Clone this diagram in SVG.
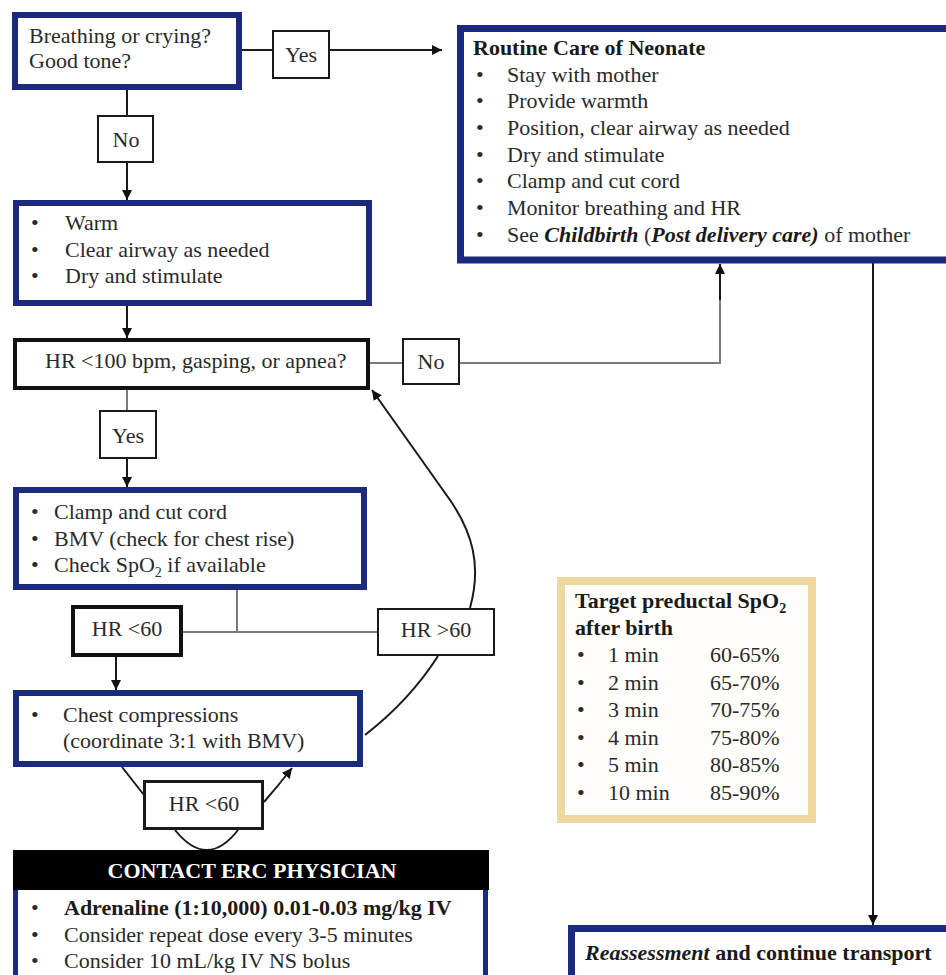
<svg xmlns="http://www.w3.org/2000/svg" width="946" height="975" viewBox="0 0 946 975">
<defs>
<marker id="arr" viewBox="0 0 10 10" refX="10" refY="5" markerWidth="10" markerHeight="10" markerUnits="userSpaceOnUse" orient="auto">
<path d="M0,0 L10,5 L0,10 z" fill="#111"/>
</marker>
<style>
text{font-family:"Liberation Serif","Times New Roman",serif;font-size:22px;fill:#2a2a2a}
.b{font-weight:bold;fill:#1a1a1a}
.i{font-style:italic}
.c{text-anchor:middle}
.navy{fill:#fff;stroke:#1c2a7e;stroke-width:6}
.lbl{fill:#fff;stroke:#1a1a1a;stroke-width:2}
.lblk{fill:#fff;stroke:#111;stroke-width:4}
.ln{fill:none;stroke:#1a1a1a;stroke-width:2}
.gl{fill:none;stroke:#7a7a7a;stroke-width:2}
.sub{font-size:14px}
</style>
</defs>
<rect width="946" height="975" fill="#fff"/>

<g id="connectors">
<line class="ln" x1="242" y1="50" x2="272" y2="50"/>
<line class="ln" x1="330" y1="50" x2="442" y2="50" marker-end="url(#arr)"/>
<line class="ln" x1="127" y1="90" x2="127" y2="115"/>
<line class="ln" x1="127" y1="163" x2="127" y2="200" marker-end="url(#arr)"/>
<line class="ln" x1="127" y1="306" x2="127" y2="338" marker-end="url(#arr)"/>
<line class="gl" x1="127" y1="390" x2="127" y2="410"/>
<line class="ln" x1="127" y1="459" x2="127" y2="487" marker-end="url(#arr)"/>
<line class="gl" x1="370" y1="363" x2="402" y2="363"/>
<path class="gl" d="M460,363 H720 V290"/>
<line class="ln" x1="720" y1="300" x2="720" y2="264" marker-end="url(#arr)"/>
<line class="ln" x1="873" y1="263" x2="873" y2="925" marker-end="url(#arr)"/>
<line class="gl" x1="237" y1="590" x2="237" y2="632"/>
<line class="gl" x1="183" y1="632" x2="377" y2="632"/>
<line class="ln" x1="116" y1="657" x2="116" y2="690" marker-end="url(#arr)"/>
<path class="ln" d="M470,608 C482,565 472,532 450,500 L372,390" marker-end="url(#arr)"/>
<path class="ln" d="M438,656 Q410,700 365,735"/>
<path class="ln" d="M122,767 L144,795"/>
<path class="ln" d="M175,830 Q207,870 238,830"/>
<path class="ln" d="M264,802 Q278,786 292,768" marker-end="url(#arr)"/>
</g>

<g id="start">
<rect class="navy" x="15" y="15" width="224" height="72"/>
<text x="29" y="43">Breathing or crying?</text>
<text x="29" y="68">Good tone?</text>
</g>

<g id="yes1">
<rect class="lbl" x="273" y="31" width="56" height="47"/>
<text class="c" x="301" y="62">Yes</text>
</g>

<g id="no1">
<rect class="lbl" x="98" y="116" width="55" height="46"/>
<text class="c" x="126" y="147">No</text>
</g>

<g id="routine">
<rect class="navy" x="460.5" y="28.5" width="500" height="231.5" style="stroke-width:7"/>
<text class="b" x="473" y="55">Routine Care of Neonate</text>
<text x="476" y="82">•</text><text x="507" y="82">Stay with mother</text>
<text x="476" y="108">•</text><text x="507" y="108">Provide warmth</text>
<text x="476" y="135">•</text><text x="507" y="135">Position, clear airway as needed</text>
<text x="476" y="162">•</text><text x="507" y="162">Dry and stimulate</text>
<text x="476" y="188">•</text><text x="507" y="188">Clamp and cut cord</text>
<text x="476" y="215">•</text><text x="507" y="215">Monitor breathing and HR</text>
<text x="476" y="242">•</text><text x="507" y="242">See <tspan class="b i">Childbirth</tspan> (<tspan class="b i">Post delivery care)</tspan> of mother</text>
</g>

<g id="warm">
<rect class="navy" x="16" y="203" width="353" height="100"/>
<text x="31" y="230">•</text><text x="65" y="230">Warm</text>
<text x="31" y="257">•</text><text x="65" y="257">Clear airway as needed</text>
<text x="31" y="283">•</text><text x="65" y="283">Dry and stimulate</text>
</g>

<g id="hr100">
<rect class="lblk" x="15" y="340" width="353" height="48"/>
<text x="45" y="368">HR &lt;100 bpm, gasping, or apnea?</text>
</g>

<g id="no2">
<rect class="lbl" x="403" y="339" width="56" height="45"/>
<text class="c" x="431" y="369">No</text>
</g>

<g id="yes2">
<rect class="lbl" x="100" y="411" width="56" height="47"/>
<text class="c" x="128" y="443">Yes</text>
</g>

<g id="clamp">
<rect class="navy" x="16" y="490" width="348" height="97"/>
<text x="31" y="519">•</text><text x="54" y="519">Clamp and cut cord</text>
<text x="31" y="546">•</text><text x="54" y="546">BMV (check for chest rise)</text>
<text x="31" y="572">•</text><text x="54" y="572">Check SpO<tspan class="sub" dy="5">2</tspan><tspan dy="-5"> if available</tspan></text>
</g>

<g id="hr60a">
<rect class="lblk" x="73" y="607" width="108" height="48"/>
<text class="c" x="127" y="636">HR &lt;60</text>
</g>

<g id="hr60b">
<rect class="lbl" x="378" y="609" width="116" height="46"/>
<text class="c" x="436" y="637">HR &gt;60</text>
</g>

<g id="compress">
<rect class="navy" x="16" y="693" width="344" height="71"/>
<text x="31" y="722">•</text><text x="63" y="722">Chest compressions</text>
<text x="63" y="748">(coordinate 3:1 with BMV)</text>
</g>

<g id="hr60c">
<rect class="lbl" x="144.5" y="781.5" width="118" height="47" style="stroke-width:3"/>
<text class="c" x="204" y="811">HR &lt;60</text>
</g>

<g id="erc">
<rect class="navy" x="15.5" y="887" width="470" height="120" style="stroke-width:5"/>
<rect x="13" y="850" width="476" height="40" fill="#000"/>
<text class="b c" x="252" y="878" style="fill:#fff">CONTACT ERC PHYSICIAN</text>
<text x="31" y="915">•</text><text class="b" x="64" y="915">Adrenaline (1:10,000) 0.01-0.03 mg/kg IV</text>
<text x="31" y="942">•</text><text x="64" y="942">Consider repeat dose every 3-5 minutes</text>
<text x="31" y="968">•</text><text x="64" y="968">Consider 10 mL/kg IV NS bolus</text>
</g>

<g id="spo2">
<rect x="561" y="581" width="251" height="238" fill="#fffefa" stroke="#efd89e" stroke-width="8"/>
<text class="b" x="575" y="608">Target preductal SpO<tspan class="sub" dy="5">2</tspan></text>
<text class="b" x="575" y="635">after birth</text>
<text x="577" y="662">•</text><text x="608" y="662">1 min</text><text x="710" y="662">60-65%</text>
<text x="577" y="690">•</text><text x="608" y="690">2 min</text><text x="710" y="690">65-70%</text>
<text x="577" y="717">•</text><text x="608" y="717">3 min</text><text x="710" y="717">70-75%</text>
<text x="577" y="745">•</text><text x="608" y="745">4 min</text><text x="710" y="745">75-80%</text>
<text x="577" y="772">•</text><text x="608" y="772">5 min</text><text x="710" y="772">80-85%</text>
<text x="577" y="800">•</text><text x="608" y="800">10 min</text><text x="710" y="800">85-90%</text>
</g>

<g id="reassess">
<rect class="navy" x="571.5" y="928.5" width="400" height="100" style="stroke-width:7"/>
<text class="b" x="585" y="960"><tspan class="i">Reassessment</tspan> and continue transport</text>
</g>
</svg>
